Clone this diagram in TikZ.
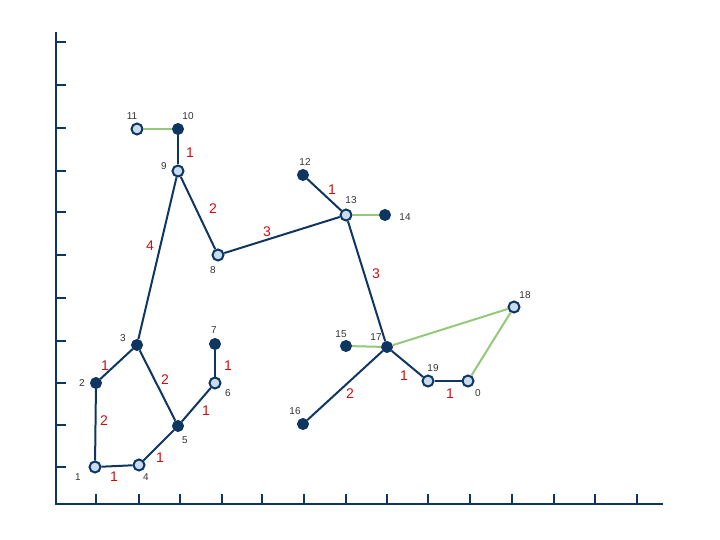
\documentclass[tikz,border=0pt]{standalone}
\usepackage{fontspec}
\setmainfont{Liberation Sans}
\definecolor{navy}{RGB}{14,54,96}
\definecolor{lightb}{RGB}{200,220,240}
\definecolor{grn}{RGB}{148,200,122}
\definecolor{redl}{RGB}{200,16,16}
\definecolor{lbl}{RGB}{51,51,51}
\tikzset{
  darknode/.style={circle,fill=navy,draw=navy,line width=1pt,minimum size=11pt,inner sep=0pt},
  lightnode/.style={circle,fill=lightb,draw=navy,line width=2pt,minimum size=11pt,inner sep=0pt},
  tree/.style={draw=navy,line width=2pt},
  extra/.style={draw=grn,line width=2pt},
  nlabel/.style={text=lbl,font=\fontsize{10}{12}\selectfont,inner sep=0pt},
  elabel/.style={text=redl,font=\fontsize{14}{16}\selectfont,inner sep=0pt},
  axis/.style={draw=navy,line width=2.5pt},
  tick/.style={draw=navy,line width=2pt}
}
\begin{document}
\begin{tikzpicture}[x=1pt,y=-1pt]
\useasboundingbox (0,0) rectangle (720,540);
% axes
\coordinate (ytop) at (56,32);
\coordinate (orig) at (56,504);
\coordinate (xend) at (663,504);
\draw[axis] (ytop) -- (orig) -- (xend);
\foreach \y in {42,85,128,171,212,255,298,341,383,425,467}
  \draw[tick] (56,\y) -- (66,\y);
\foreach \x in {96,139,180,222,262,304,346,387,428,470,512,554,595,637}
  \draw[tick] (\x,504) -- (\x,494);
% nodes
\node[lightnode] (n0) at (468,381) {};
\node[lightnode] (n1) at (95,467) {};
\node[darknode] (n2) at (96,383) {};
\node[darknode] (n3) at (137,345) {};
\node[lightnode] (n4) at (139,465) {};
\node[darknode] (n5) at (178,426) {};
\node[lightnode] (n6) at (215,383) {};
\node[darknode] (n7) at (215,344) {};
\node[lightnode] (n8) at (218,255) {};
\node[lightnode] (n9) at (178,171) {};
\node[darknode] (n10) at (178,129) {};
\node[lightnode] (n11) at (137,129) {};
\node[darknode] (n12) at (303,175) {};
\node[lightnode] (n13) at (346,215) {};
\node[darknode] (n14) at (385,215) {};
\node[darknode] (n15) at (346,346) {};
\node[darknode] (n16) at (303,424) {};
\node[darknode] (n17) at (387,347) {};
\node[lightnode] (n18) at (514,307) {};
\node[lightnode] (n19) at (428,381) {};
% tree edges
\draw[tree] (n1) -- (n2);
\draw[tree] (n2) -- (n3);
\draw[tree] (n3) -- (n5);
\draw[tree] (n1) -- (n4);
\draw[tree] (n4) -- (n5);
\draw[tree] (n5) -- (n6);
\draw[tree] (n6) -- (n7);
\draw[tree] (n3) -- (n9);
\draw[tree] (n9) -- (n10);
\draw[tree] (n9) -- (n8);
\draw[tree] (n8) -- (n13);
\draw[tree] (n12) -- (n13);
\draw[tree] (n13) -- (n17);
\draw[tree] (n17) -- (n16);
\draw[tree] (n17) -- (n19);
\draw[tree] (n19) -- (n0);
% green edges
\draw[extra] (n10) -- (n11);
\draw[extra] (n13) -- (n14);
\draw[extra] (n15) -- (n17);
\draw[extra] (n17) -- (n18);
\draw[extra] (n18) -- (n0);
% node labels
\node[nlabel] (t0) at (478,393) {0};
\node[nlabel] (t1) at (78,477) {1};
\node[nlabel] (t2) at (82,383) {2};
\node[nlabel] (t3) at (123,338) {3};
\node[nlabel] (t4) at (146,477) {4};
\node[nlabel] (t5) at (185,440) {5};
\node[nlabel] (t6) at (228,393) {6};
\node[nlabel] (t7) at (214,330) {7};
\node[nlabel] (t8) at (213,270) {8};
\node[nlabel] (t9) at (164,166) {9};
\node[nlabel] (t10) at (188,116) {10};
\node[nlabel] (t11) at (132,116) {11};
\node[nlabel] (t12) at (305,162) {12};
\node[nlabel] (t13) at (351,200) {13};
\node[nlabel] (t14) at (405,217) {14};
\node[nlabel] (t15) at (341,334) {15};
\node[nlabel] (t16) at (295,411) {16};
\node[nlabel] (t17) at (376,337) {17};
\node[nlabel] (t18) at (525,295) {18};
\node[nlabel] (t19) at (433,368) {19};
% edge labels
\node[elabel] (w12) at (104,421) {2};
\node[elabel] (w23) at (105,366) {1};
\node[elabel] (w35) at (165,380) {2};
\node[elabel] (w14) at (114,477) {1};
\node[elabel] (w45) at (160,458) {1};
\node[elabel] (w56) at (206,411) {1};
\node[elabel] (w67) at (228,366) {1};
\node[elabel] (w39) at (150,246) {4};
\node[elabel] (w910) at (190,153) {1};
\node[elabel] (w98) at (213,209) {2};
\node[elabel] (w813) at (267,232) {3};
\node[elabel] (w1213) at (332,190) {1};
\node[elabel] (w1317) at (376,274) {3};
\node[elabel] (w1716) at (350,394) {2};
\node[elabel] (w1719) at (404,376) {1};
\node[elabel] (w190) at (450,394) {1};
\end{tikzpicture}
\end{document}
